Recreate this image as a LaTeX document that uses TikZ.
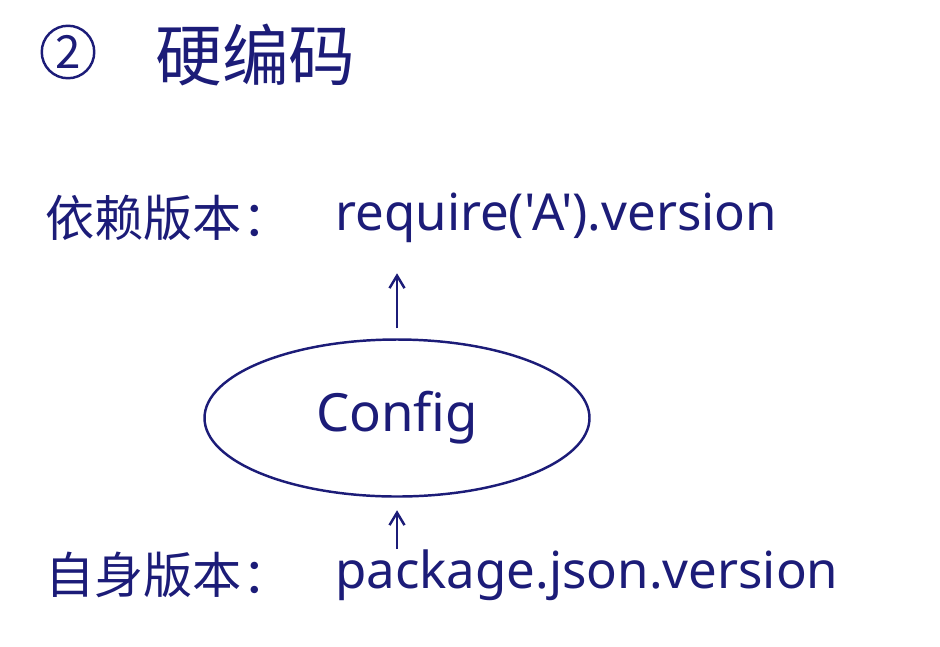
\documentclass[tikz,border=0pt]{standalone}
\usepackage{fontspec}
\setmainfont{Noto Sans CJK SC}
\newfontfamily\codefont{Noto Sans}
\usepackage{tikz}
\usetikzlibrary{shapes, arrows.meta, positioning}
\definecolor{ink}{RGB}{28,28,120}

\begin{document}
\begin{tikzpicture}[
      txt/.style={text=ink, font=\fontsize{28}{34}\selectfont, inner sep=0pt},
      code/.style={txt, font=\codefont\fontsize{29}{34}\selectfont},
      oval/.style={draw=ink, ellipse, line width=1.4pt, minimum width=7.7cm, minimum height=3.14cm, text=ink, font=\codefont\fontsize{30}{36}\selectfont},
      arr/.style={-{Straight Barb[length=2.5mm, width=3mm]}, draw=ink, line width=1.4pt},
    ]
    \useasboundingbox (0,0) rectangle (18.8,-12.92);
    \node[draw=ink, circle, line width=1.4pt, minimum size=1.05cm, inner sep=0pt, text=ink, font=\fontsize{26}{30}\selectfont] (num) at (1.36,-1.04) {2};
    \node[txt, font=\fontsize{38}{42}\selectfont, anchor=west] (title) at (3.1,-1.1) {硬编码};

    \node[txt, anchor=west] (deplbl) at (0.9,-4.36) {依赖版本：};
    \node[code, anchor=west] (depver) at (6.7,-4.36) {require('A').version};

    \node[oval] (config) at (7.94,-8.36) {Config};

    \node[txt, anchor=west] (selflbl) at (0.9,-11.5) {自身版本：};
    \node[code, anchor=west] (selfver) at (6.7,-11.5) {package.json.version};

    \draw[arr, shorten <=0.2cm, shorten >=0.6cm] (config.north) -- (config.north |- depver.south);
    \draw[arr, shorten >=0.25cm] (selfver.north -| config.south) -- (config.south);
  \end{tikzpicture}
\end{document}
